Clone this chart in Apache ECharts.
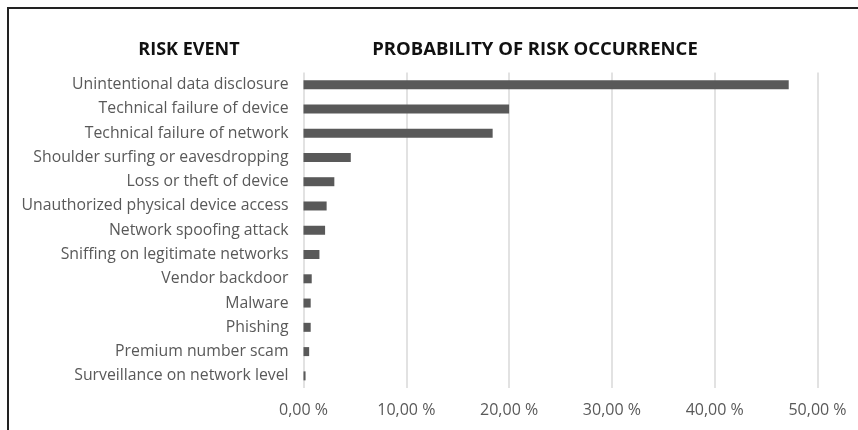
<!DOCTYPE html>
<html>
<head>
<meta charset="utf-8">
<script src="https://cdn.jsdelivr.net/npm/echarts@6/dist/echarts.min.js"></script>
<style>
  html, body { margin: 0; padding: 0; background: #fff; }
  #chart { width: 858px; height: 430px; }
</style>
</head>
<body>
<div id="chart"></div>
<script>
// Risk events, listed top to bottom
var riskEvents = [
  'Unintentional data disclosure',
  'Technical failure of device',
  'Technical failure of network',
  'Shoulder surfing or eavesdropping',
  'Loss or theft of device',
  'Unauthorized physical device access',
  'Network spoofing attack',
  'Sniffing on legitimate networks',
  'Vendor backdoor',
  'Malware',
  'Phishing',
  'Premium number scam',
  'Surveillance on network level'
];

// Probability of occurrence, in percent
var probability = [47.2, 20.0, 18.4, 4.6, 3.0, 2.25, 2.1, 1.55, 0.8, 0.7, 0.7, 0.55, 0.2];

// Value-axis range
var axisMin = 0;
var axisMax = 50;
var axisStep = 10;

var labelFont = '"Open Sans", sans-serif';

var chart = echarts.init(document.getElementById('chart'), null, { renderer: 'canvas' });

chart.setOption({
  animation: false,
  backgroundColor: '#ffffff',
  graphic: [
    { type: 'line', shape: { x1: 7, y1: 8, x2: 858, y2: 8 }, style: { stroke: '#222', lineWidth: 2 } },
    { type: 'line', shape: { x1: 8, y1: 7, x2: 8, y2: 430 }, style: { stroke: '#222', lineWidth: 2 } },
    {
      type: 'text', x: 189, y: 50,
      style: {
        text: 'RISK EVENT', align: 'center', verticalAlign: 'middle',
        font: 'bold 18px "Open Sans", sans-serif', fill: '#111111'
      }
    },
    {
      type: 'text', x: 535, y: 50,
      style: {
        text: 'PROBABILITY OF RISK OCCURRENCE', align: 'center', verticalAlign: 'middle',
        font: 'bold 18.5px "Open Sans", sans-serif', fill: '#111111'
      }
    }
  ],
  grid: { left: 303.5, right: 40.5, top: 72.5, bottom: 42 },
  xAxis: {
    type: 'value',
    min: axisMin, max: axisMax, interval: axisStep,
    axisLine: { show: false },
    axisTick: { show: false },
    splitLine: { show: true, lineStyle: { color: '#d9d9d9', width: 1.5 } },
    axisLabel: {
      color: '#595959', fontFamily: labelFont, fontSize: 16, margin: 14,
      formatter: function (v) { return v.toFixed(2).replace('.', ',') + ' %'; }
    }
  },
  yAxis: {
    type: 'category',
    inverse: true,
    data: riskEvents,
    axisLine: { show: false },
    axisTick: { show: false },
    axisLabel: { color: '#595959', fontFamily: labelFont, fontSize: 15.8, margin: 15 }
  },
  series: [{
    type: 'bar',
    data: probability,
    barWidth: 9,
    itemStyle: { color: '#595959' }
  }]
});
</script>
</body>
</html>
